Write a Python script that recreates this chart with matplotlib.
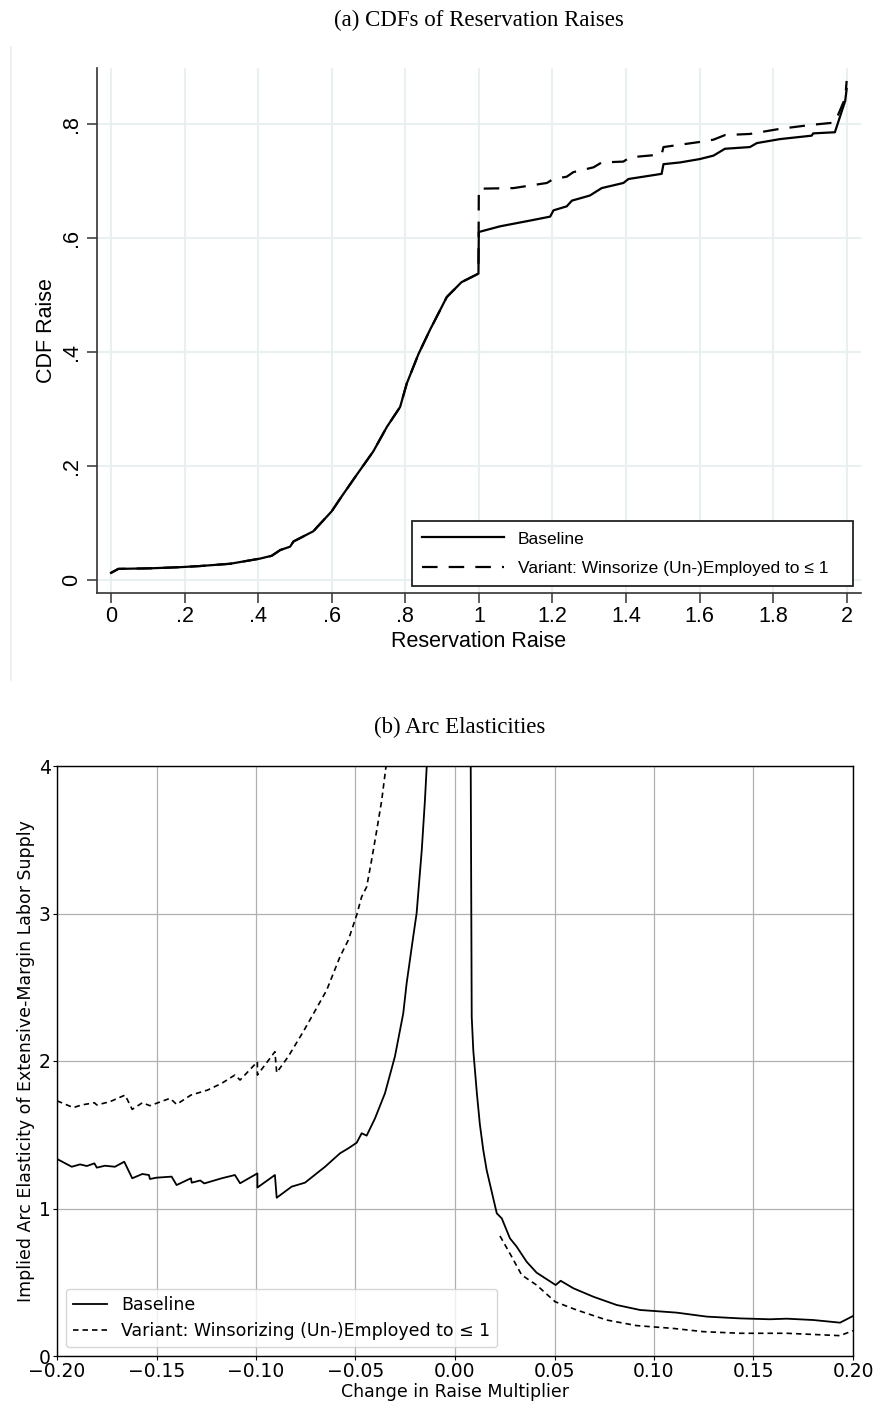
import numpy as np
import matplotlib
matplotlib.use("Agg")
import matplotlib.pyplot as plt
from matplotlib.lines import Line2D

# ---------------- Data: panel (a) CDFs ----------------
shared_x = [0.0, 0.02, 0.106, 0.188, 0.242, 0.324, 0.405, 0.437, 0.46, 0.487, 0.496,
            0.55, 0.60, 0.627, 0.668, 0.713, 0.75, 0.786, 0.804, 0.836, 0.867,
            0.913, 0.953, 0.999]
shared_y = [0.012, 0.019, 0.020, 0.022, 0.024, 0.028, 0.037, 0.042, 0.052, 0.058, 0.067,
            0.085, 0.12, 0.146, 0.184, 0.225, 0.268, 0.303, 0.344, 0.396, 0.438,
            0.496, 0.522, 0.537]

base_tail_x = [1.0, 1.058, 1.139, 1.194, 1.203, 1.239, 1.253, 1.302, 1.334, 1.393, 1.407,
               1.497, 1.502, 1.547, 1.601, 1.638, 1.669, 1.737, 1.756, 1.819, 1.905,
               1.909, 1.968, 1.996, 2.0]
base_tail_y = [0.61, 0.62, 0.63, 0.637, 0.648, 0.655, 0.665, 0.674, 0.687, 0.696, 0.703,
               0.712, 0.729, 0.732, 0.738, 0.744, 0.756, 0.759, 0.766, 0.773, 0.779,
               0.783, 0.785, 0.84, 0.861]

var_tail_x = [1.0, 1.094, 1.185, 1.203, 1.239, 1.257, 1.312, 1.334, 1.393, 1.411, 1.497,
              1.502, 1.601, 1.638, 1.669, 1.737, 1.819, 1.905, 1.968, 1.996, 2.0]
var_tail_y = [0.686, 0.687, 0.696, 0.703, 0.707, 0.715, 0.7235, 0.732, 0.7335, 0.741, 0.746,
              0.759, 0.768, 0.772, 0.780, 0.782, 0.791, 0.798, 0.802, 0.845, 0.875]

cdf_xticks = [0, 0.2, 0.4, 0.6, 0.8, 1.0, 1.2, 1.4, 1.6, 1.8, 2.0]
cdf_xticklabels = ["0", ".2", ".4", ".6", ".8", "1", "1.2", "1.4", "1.6", "1.8", "2"]
cdf_yticks = [0, 0.2, 0.4, 0.6, 0.8]
cdf_yticklabels = ["0", ".2", ".4", ".6", ".8"]

# ---------------- Data: panel (b) arc elasticities ----------------
base_left_x = [-0.2, -0.1926, -0.1884, -0.185, -0.1812, -0.180, -0.1759, -0.1709, -0.1662,
               -0.1622, -0.1571, -0.1538, -0.1533, -0.150, -0.1424, -0.1399, -0.1327,
               -0.1323, -0.128, -0.126, -0.1172, -0.1106, -0.108, -0.0993, -0.0993,
               -0.0905, -0.0896, -0.0821, -0.0754, -0.0653, -0.0578, -0.0536, -0.0494,
               -0.0469, -0.0444, -0.0402, -0.0352, -0.0302, -0.026, -0.0243, -0.021,
               -0.0193, -0.0167, -0.0151, -0.0142, -0.0135]
base_left_y = [1.336, 1.283, 1.299, 1.288, 1.306, 1.277, 1.29, 1.283, 1.317,
               1.205, 1.234, 1.227, 1.20, 1.209, 1.216, 1.159, 1.205,
               1.175, 1.19, 1.17, 1.205, 1.227, 1.171, 1.238, 1.142,
               1.227, 1.073, 1.148, 1.175, 1.283, 1.374, 1.408, 1.446,
               1.51, 1.494, 1.611, 1.781, 2.03, 2.323, 2.527, 2.843,
               3.0, 3.43, 3.77, 4.0, 4.4]
base_right_x = [0.0078, 0.0079, 0.0084, 0.0092, 0.011, 0.0125, 0.0142, 0.0159, 0.021,
                0.0235, 0.0276, 0.031, 0.036, 0.041, 0.0506, 0.0531, 0.0595, 0.0695,
                0.0812, 0.093, 0.1114, 0.1265, 0.1432, 0.1583, 0.1667, 0.180, 0.1935, 0.2]
base_right_y = [4.4, 4.0, 2.3, 2.07, 1.78, 1.57, 1.397, 1.261, 0.967,
                0.933, 0.798, 0.741, 0.639, 0.565, 0.481, 0.51, 0.459, 0.402,
                0.346, 0.312, 0.294, 0.267, 0.255, 0.249, 0.253, 0.244, 0.226, 0.271]

var_left_x = [-0.2, -0.1918, -0.1876, -0.1812, -0.18, -0.1734, -0.1658, -0.1622, -0.1571,
              -0.1533, -0.1432, -0.1399, -0.1327, -0.1243, -0.1172, -0.1106, -0.108,
              -0.0993, -0.0993, -0.0905, -0.0896, -0.0838, -0.0762, -0.072, -0.0645,
              -0.0578, -0.0536, -0.0494, -0.0469, -0.0444, -0.0419, -0.0393, -0.0368,
              -0.0347, -0.034]
var_left_y = [1.73, 1.684, 1.702, 1.717, 1.702, 1.724, 1.769, 1.672, 1.717,
              1.697, 1.747, 1.706, 1.769, 1.803, 1.849, 1.905, 1.871,
              1.995, 1.905, 2.063, 1.921, 2.03, 2.20, 2.30, 2.48,
              2.707, 2.82, 2.99, 3.114, 3.18, 3.363, 3.566, 3.77,
              3.995, 4.2]
var_right_x = [0.0226, 0.0285, 0.0335, 0.041, 0.0503, 0.0611, 0.0762, 0.0913, 0.1097,
               0.1248, 0.1432, 0.1667, 0.1935, 0.2]
var_right_y = [0.814, 0.673, 0.549, 0.481, 0.368, 0.312, 0.244, 0.206, 0.187,
               0.165, 0.154, 0.154, 0.138, 0.172]

arc_xticks = [-0.20, -0.15, -0.10, -0.05, 0.00, 0.05, 0.10, 0.15, 0.20]
arc_xticklabels = ["\u22120.20", "\u22120.15", "\u22120.10", "\u22120.05", "0.00",
                   "0.05", "0.10", "0.15", "0.20"]
arc_yticks = [0, 1, 2, 3, 4]

# ---------------- Figure ----------------
W, H = 878, 1405
fig = plt.figure(figsize=(W / 100, H / 100), dpi=100)

sans = ["Liberation Sans", "DejaVu Sans"]
serif = ["Liberation Serif", "DejaVu Serif"]

# Stata graph region border (faint)
fig.add_artist(Line2D([11 / W, 11 / W], [1 - 47 / H, 1 - 680 / H],
                      color="#e6eef1", lw=1.2, transform=fig.transFigure))

fig.text(479 / W, 1 - 20 / H, "(a) CDFs of Reservation Raises", ha="center", va="center",
         family=serif, fontsize=16.5)
fig.text(460 / W, 1 - 727 / H, "(b) Arc Elasticities", ha="center", va="center",
         family=serif, fontsize=16.5)

# ---- Panel (a) ----
ax1 = fig.add_axes([97 / W, 1 - 593 / H, (861 - 97) / W, (593 - 68) / H])
ax1.set_xlim(-0.038, 2.039)
ax1.set_ylim(-0.0233, 0.8977)
for s in ["top", "right"]:
    ax1.spines[s].set_visible(False)
for s in ["left", "bottom"]:
    ax1.spines[s].set_color("#333333")
    ax1.spines[s].set_linewidth(1.2)
ax1.set_xticks(cdf_xticks)
ax1.set_xticklabels(cdf_xticklabels, family=sans, fontsize=15.5)
ax1.set_yticks(cdf_yticks)
ax1.set_yticklabels(cdf_yticklabels, family=sans, fontsize=15.5, rotation=90, va="center")
ax1.tick_params(axis="both", length=7, width=1.1, color="#333333", direction="out")
ax1.tick_params(axis="x", pad=2)
ax1.tick_params(axis="y", pad=4)
ax1.grid(True, color="#e8f0f2", lw=1.5)
ax1.set_axisbelow(True)

dash_a = (0, (7, 5))
ax1.plot(shared_x + var_tail_x, shared_y + var_tail_y, color="black", lw=1.6,
         ls=dash_a, label="Variant: Winsorize (Un-)Employed to \u2264 1", zorder=3)
ax1.plot(shared_x + base_tail_x, shared_y + base_tail_y, color="black", lw=1.6,
         ls="-", label="Baseline", zorder=4)

ax1.set_xlabel("Reservation Raise", family=sans, fontsize=15.5, labelpad=3)
ax1.set_ylabel("CDF Raise", family=sans, fontsize=15.5, labelpad=3)

h, l = ax1.get_legend_handles_labels()
leg1 = ax1.legend([h[1], h[0]], [l[1], l[0]], loc="lower left",
                  bbox_to_anchor=(0.412, 0.0133, 0.577, 0.135), mode="expand",
                  borderaxespad=0, fancybox=False, framealpha=1, edgecolor="#222222",
                  prop={"family": sans, "size": 12.5}, handlelength=4.7,
                  handletextpad=0.8, labelspacing=0.8, borderpad=0.6)
leg1.get_frame().set_linewidth(1.3)

# ---- Panel (b) ----
ax2 = fig.add_axes([57 / W, 1 - 1356 / H, (853 - 57) / W, (1356 - 766) / H])
ax2.set_xlim(-0.2, 0.2)
ax2.set_ylim(0, 4)
ax2.grid(True, color="#b0b0b0", lw=0.9)
ax2.set_axisbelow(True)
ax2.set_xticks(arc_xticks)
ax2.set_xticklabels(arc_xticklabels, fontsize=13.5)
ax2.set_yticks(arc_yticks)
ax2.set_yticklabels([str(v) for v in arc_yticks], fontsize=13.5)
ax2.tick_params(axis="both", length=3, pad=1.5)
for s in ax2.spines.values():
    s.set_linewidth(1.0)

nan = [np.nan]
ax2.plot(base_left_x + nan + base_right_x, base_left_y + nan + base_right_y,
         color="black", lw=1.3, label="Baseline")
ax2.plot(var_left_x + nan + var_right_x, var_left_y + nan + var_right_y,
         color="black", lw=1.2, ls=(0, (3.3, 2.4)),
         label="Variant: Winsorizing (Un-)Employed to \u2264 1")

ax2.set_xlabel("Change in Raise Multiplier", fontsize=12.5, labelpad=1)
ax2.set_ylabel("Implied Arc Elasticity of Extensive-Margin Labor Supply", fontsize=12.5,
               labelpad=3)
ax2.legend(loc="lower left", fontsize=12.5, handlelength=2.0, borderaxespad=0.5)

fig.savefig("out.png", dpi=100)
